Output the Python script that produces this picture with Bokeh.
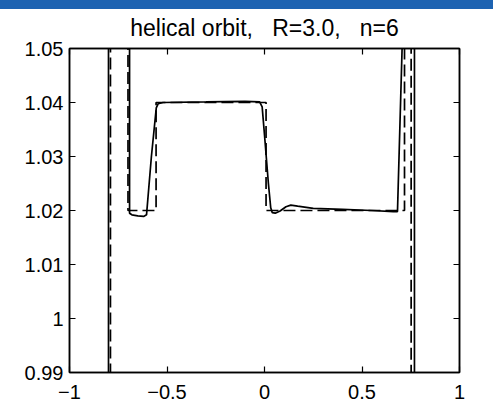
from bokeh.plotting import figure
from bokeh.models import Range1d, FixedTicker, LinearAxis, Div
from bokeh.layouts import column
from bokeh.embed import file_html
from bokeh.resources import INLINE

# ---- data ----
title_text = "helical orbit,\u00a0\u00a0\u00a0R=3.0,\u00a0\u00a0\u00a0n=6"

x_ticks = [-1, -0.5, 0, 0.5, 1]
x_tick_labels = ["\u22121", "\u22120.5", "0", "0.5", "1"]
y_ticks = [0.99, 1.00, 1.01, 1.02, 1.03, 1.04, 1.05]
y_tick_labels = ["0.99", "1", "1.01", "1.02", "1.03", "1.04", "1.05"]

# numerical (solid) curve
solid_x = [-0.80, -0.80, -0.692, -0.692, -0.68, -0.65, -0.62, -0.605, -0.58,
           -0.555, -0.545, -0.52, -0.30, -0.10, -0.025, -0.012, 0.00, 0.02,
           0.032, 0.04, 0.055, 0.08, 0.11, 0.135, 0.17, 0.25, 0.40, 0.55,
           0.66, 0.682, 0.706, 0.706, 0.769, 0.769]
solid_y = [0.98, 1.06, 1.06, 1.0195, 1.0192, 1.0190, 1.0189, 1.0192, 1.030,
           1.0390, 1.0398, 1.0400, 1.0401, 1.0402, 1.0401, 1.0392, 1.034, 1.025,
           1.0205, 1.0196, 1.0195, 1.0199, 1.0207, 1.0210, 1.0208, 1.0204, 1.0202, 1.0200,
           1.0198, 1.0198, 1.0505, 1.06, 1.06, 0.98]

# exact (dashed) curve
dash_x = [-0.79, -0.79, -0.70, -0.70, -0.556, -0.556, 0.008, 0.008, 0.718, 0.718, 0.752, 0.752]
dash_y = [0.98, 1.06, 1.06, 1.02, 1.02, 1.04, 1.04, 1.02, 1.02, 1.06, 1.06, 0.98]

FONT = "Liberation Sans"

p = figure(width=485, height=411, output_backend="svg", toolbar_location=None,
           x_range=Range1d(-1, 1), y_range=Range1d(0.99, 1.05),
           min_border_left=69, min_border_right=26, min_border_top=48, min_border_bottom=39)

p.title.text = title_text
p.title.align = "center"
p.title.text_font = FONT
p.title.text_font_size = "23px"
p.title.text_font_style = "normal"
p.title.text_color = "black"
p.title.standoff = 15

p.grid.visible = False
p.background_fill_color = "white"
p.border_fill_color = "white"
p.outline_line_color = "black"
p.outline_line_width = 1.5

p.line(solid_x, solid_y, line_color="black", line_width=1.7)
p.line(dash_x, dash_y, line_color="black", line_width=1.7, line_dash="12 5")

def style(ax, ticks, labels, show, standoff=6):
    ax.ticker = FixedTicker(ticks=ticks)
    ax.major_label_overrides = {t: l for t, l in zip(ticks, labels)}
    ax.major_tick_in = 6
    ax.major_tick_out = 0
    ax.minor_tick_line_color = None
    ax.major_tick_line_color = "black"
    ax.major_tick_line_width = 1.2
    ax.axis_line_color = "black"
    ax.axis_line_width = 1.5
    ax.major_label_text_font = FONT
    if show:
        ax.major_label_text_color = "black"
        ax.major_label_text_font_size = "20px"
        ax.major_label_standoff = standoff
    else:
        ax.major_label_text_color = None
        ax.major_label_text_font_size = "2px"
        ax.major_label_standoff = 0

style(p.xaxis[0], x_ticks, x_tick_labels, True, standoff=12)
style(p.yaxis[0], y_ticks, y_tick_labels, True, standoff=6)

top_ax = LinearAxis()
right_ax = LinearAxis()
p.add_layout(top_ax, "above")
p.add_layout(right_ax, "right")
style(top_ax, x_ticks, x_tick_labels, False)
style(right_ax, y_ticks, y_tick_labels, False)

bar = Div(text="", width=493, height=9, margin=0,
          styles={"position": "fixed", "top": "0px", "left": "0px",
                  "background-color": "#1d63b2", "z-index": "100"})

layout = column(bar, p, spacing=0)

open("out.html", "w").write(file_html(layout, INLINE))
